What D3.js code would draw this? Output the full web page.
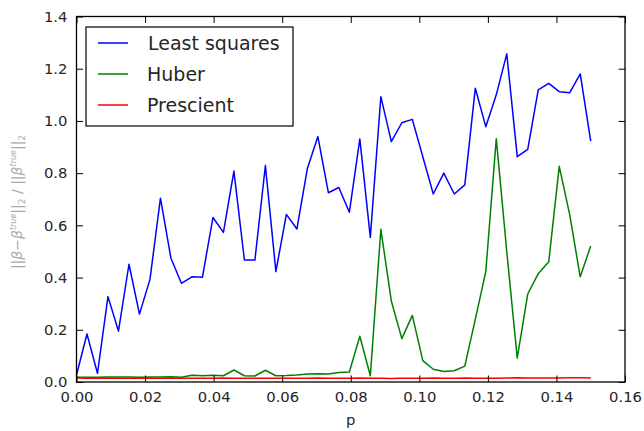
<!DOCTYPE html>
<html><head><meta charset="utf-8">
<script src="https://cdn.jsdelivr.net/npm/d3@7"></script>
<style>body{margin:0;background:#fff}svg{display:block}text{font-family:"DejaVu Sans",sans-serif}</style>
</head><body><svg id="c" width="644" height="431"></svg>
<script>
const pValues = [0,0.00306,0.00612,0.00918,0.01224,0.01531,0.01837,0.02143,0.02449,0.02755,0.03061,0.03367,0.03673,0.03980,0.04286,0.04592,0.04898,0.05204,0.05510,0.05816,0.06122,0.06429,0.06735,0.07041,0.07347,0.07653,0.07959,0.08265,0.08571,0.08878,0.09184,0.09490,0.09796,0.10102,0.10408,0.10714,0.11020,0.11327,0.11633,0.11939,0.12245,0.12551,0.12857,0.13163,0.13469,0.13776,0.14082,0.14388,0.14694,0.15];
const leastSquares = [0.027,0.184,0.033,0.327,0.195,0.451,0.260,0.393,0.704,0.474,0.378,0.403,0.401,0.630,0.573,0.808,0.467,0.467,0.829,0.423,0.642,0.586,0.818,0.940,0.725,0.745,0.650,0.931,0.554,1.093,0.921,0.993,1.006,0.863,0.720,0.800,0.720,0.755,1.125,0.978,1.100,1.257,0.863,0.891,1.119,1.144,1.112,1.108,1.180,0.923];
const huber = [0.018,0.018,0.018,0.019,0.019,0.019,0.018,0.019,0.019,0.020,0.018,0.026,0.024,0.026,0.024,0.046,0.024,0.023,0.045,0.024,0.025,0.027,0.031,0.032,0.031,0.036,0.038,0.175,0.024,0.585,0.310,0.166,0.255,0.082,0.049,0.040,0.043,0.061,0.240,0.423,0.932,0.500,0.091,0.337,0.415,0.461,0.826,0.640,0.403,0.521];
const prescient = [0.015,0.014,0.014,0.015,0.014,0.014,0.015,0.014,0.014,0.015,0.014,0.014,0.014,0.014,0.015,0.014,0.014,0.014,0.014,0.014,0.014,0.014,0.014,0.015,0.014,0.014,0.014,0.015,0.014,0.014,0.013,0.014,0.014,0.014,0.015,0.014,0.014,0.015,0.014,0.014,0.014,0.015,0.016,0.015,0.015,0.015,0.015,0.016,0.016,0.015];
const seriesNames = ["Least squares","Huber","Prescient"];
const seriesColors = ["#0000ff","#008000","#ff0000"];
const xTicks = [0,0.02,0.04,0.06,0.08,0.10,0.12,0.14,0.16];
const yTicks = [0,0.2,0.4,0.6,0.8,1.0,1.2,1.4];

const svg = d3.select("#c");
const L=76.5, R=625, T=16.5, B=382;
const x = d3.scaleLinear().domain([0,0.16]).range([L,R]);
const y = d3.scaleLinear().domain([0,1.4]).range([B,T]);
const tl = 6.5;

const series = [leastSquares, huber, prescient];
const line = d3.line().x((d,i)=>x(pValues[i])).y(d=>y(d));
series.forEach((s,k)=>{
  svg.append("path").attr("d",line(s)).attr("fill","none")
    .attr("stroke",seriesColors[k]).attr("stroke-width",1.5).attr("stroke-linejoin","round");
});

const fmtX = d=>d.toFixed(2), fmtY = d=>d.toFixed(1);
const gB = svg.append("g").attr("transform",`translate(0,${B})`)
  .call(d3.axisBottom(x).tickValues(xTicks).tickFormat(fmtX).tickSizeInner(-tl).tickSizeOuter(0).tickPadding(9));
const gT = svg.append("g").attr("transform",`translate(0,${T})`)
  .call(d3.axisTop(x).tickValues(xTicks).tickFormat("").tickSizeInner(-tl).tickSizeOuter(0));
const gL = svg.append("g").attr("transform",`translate(${L},0)`)
  .call(d3.axisLeft(y).tickValues(yTicks).tickFormat(fmtY).tickSizeInner(-tl).tickSizeOuter(0).tickPadding(9));
const gR = svg.append("g").attr("transform",`translate(${R},0)`)
  .call(d3.axisRight(y).tickValues(yTicks).tickFormat("").tickSizeInner(-tl).tickSizeOuter(0));
[gB,gT,gL,gR].forEach(g=>{
  g.select(".domain").remove();
  g.selectAll(".tick line").attr("stroke","#000").attr("stroke-width",1);
  g.selectAll(".tick text").attr("font-size",14.8).attr("fill","#262626").attr("font-family","DejaVu Sans");
});
svg.append("rect").attr("x",L).attr("y",T).attr("width",R-L).attr("height",B-T)
  .attr("fill","none").attr("stroke","#000").attr("stroke-width",1.3);

svg.append("text").attr("x",(L+R)/2).attr("y",425).attr("text-anchor","middle")
  .attr("font-size",14.8).attr("fill","#262626").text("p");

const yl = svg.append("text").attr("transform","translate(22,202) rotate(-90)")
  .attr("text-anchor","middle").attr("font-size",14).attr("fill","#aaa");
yl.append("tspan").text("||");
yl.append("tspan").attr("font-style","italic").text("β");
yl.append("tspan").text("−");
yl.append("tspan").attr("font-style","italic").text("β");
yl.append("tspan").attr("font-size",8).attr("dy",-6).attr("font-style","italic").text("true");
yl.append("tspan").attr("dy",6).text("||");
yl.append("tspan").attr("font-size",9).attr("dy",3).text("2");
yl.append("tspan").attr("dy",-3).text(" / ||");
yl.append("tspan").attr("font-style","italic").text("β");
yl.append("tspan").attr("font-size",8).attr("dy",-6).attr("font-style","italic").text("true");
yl.append("tspan").attr("dy",6).text("||");
yl.append("tspan").attr("font-size",9).attr("dy",3).text("2");

const lg = svg.append("g");
lg.append("rect").attr("x",86).attr("y",27).attr("width",207).attr("height",99)
  .attr("fill","#fff").attr("stroke","#000").attr("stroke-width",1.2);
seriesNames.forEach((n,k)=>{
  const yy = 43 + k*31;
  lg.append("line").attr("x1",98).attr("x2",128).attr("y1",yy).attr("y2",yy)
    .attr("stroke",seriesColors[k]).attr("stroke-width",1.5);
  lg.append("text").attr("x",k===0?148:147).attr("y",yy).attr("dy","0.36em")
    .attr("font-size",19).attr("fill","#262626").text(n);
});
</script></body></html>
